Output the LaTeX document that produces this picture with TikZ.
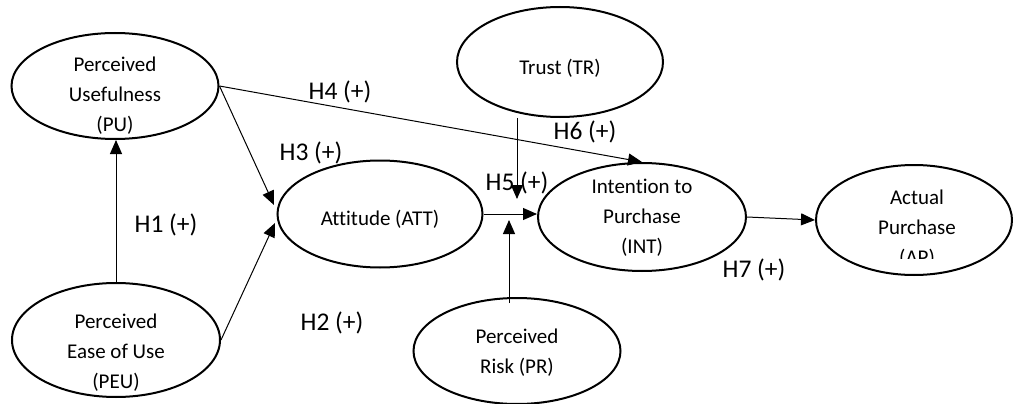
\documentclass[tikz,border=0pt]{standalone}
\usepackage{fontspec}
\setmainfont{Carlito}[Ligatures={NoCommon}]
\usetikzlibrary{shapes.geometric,arrows.meta}
\begin{document}
\begin{tikzpicture}[x=1pt,y=-1pt,
  oval/.style={ellipse,draw,line width=2pt,inner sep=0pt},
  lbl/.style={font=\fontsize{25.5}{28}\selectfont,inner sep=0pt},
  txt/.style={font=\fontsize{21}{30}\selectfont,align=center,inner sep=0pt},
  conn/.style={line width=1pt,-{Triangle[length=14pt,width=12pt]}},
  plainline/.style={line width=1pt}]
\useasboundingbox (0,0) rectangle (1013,404);

% ovals
\node[oval,minimum width=207pt,minimum height=106pt] (PU) at (115,86) {};
\node[oval,minimum width=208pt,minimum height=114pt] (PEU) at (116,340) {};
\node[oval,minimum width=206pt,minimum height=110pt] (TR) at (560,62) {};
\node[oval,minimum width=205pt,minimum height=107pt] (ATT) at (380,214) {};
\node[oval,minimum width=208pt,minimum height=108pt] (INT) at (642,217) {};
\node[oval,minimum width=196pt,minimum height=110pt] (AP) at (914,220) {};
\node[oval,minimum width=207pt,minimum height=106pt] (PR) at (517,351) {};

% texts
\node[txt] (PUt) at (115,96) {Perceived\\Usefulness\\(PU)};
\node[txt] (PEUt) at (116,353) {Perceived\\Ease of Use\\(PEU)};
\node[txt] (TRt) at (560,68) {Trust (TR)};
\node[txt] (ATTt) at (380,219) {Attitude (ATT)};
\node[txt] (INTt) at (642,218) {Intention to\\Purchase\\(INT)};
\node[txt] (PRt) at (517,353) {Perceived\\Risk (PR)};
\begin{scope}
  \clip (800,150) rectangle (1013,258);
  \node[txt] (APt) at (917,229) {Actual\\Purchase\\(AP)};
\end{scope}

% free ends
\coordinate (a1) at (274,205);
\coordinate (a2) at (275,223);
\coordinate (t1) at (517,118);
\coordinate (t2) at (517,199);
\coordinate (r1) at (509,303);
\coordinate (r2) at (509,220);

% connectors
\draw[conn] (PEU.north) -- (PEU.north |- PU.south);
\draw[conn] (PU.east) -- (a1);
\draw[conn] (PEU.east) -- (a2);
\draw[conn] (PU.east) -- (INT.north);
\draw[conn] (t1) -- (t2);
\draw[conn] (ATT.east) -- (ATT.east -| INT.west);
\draw[conn] (r1) -- (r2);
\draw[conn] (INT.east) -- (AP.west);

% labels
\node[lbl] (H1) at (166,225) {H1 (+)};
\node[lbl] (H2) at (332,323) {H2 (+)};
\node[lbl] (H3) at (311,153) {H3 (+)};
\node[lbl] (H4) at (340,92) {H4 (+)};
\node[lbl] (H5) at (517,183) {H5 (+)};
\node[lbl] (H6) at (585,132) {H6 (+)};
\node[lbl] (H7) at (754,270) {H7 (+)};
\end{tikzpicture}
\end{document}
